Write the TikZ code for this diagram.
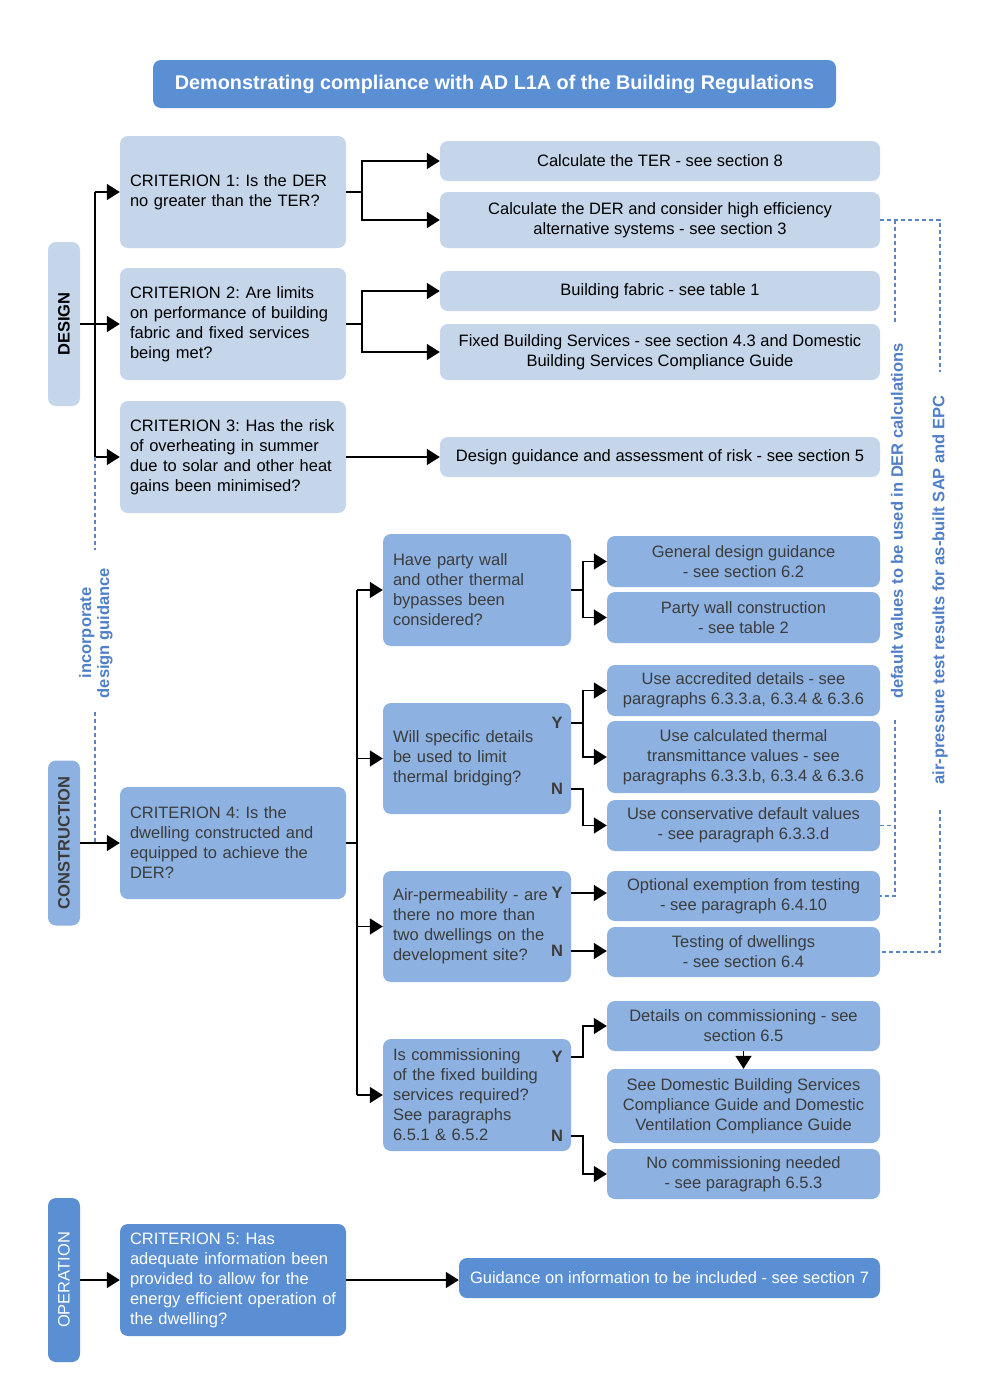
\documentclass[tikz,border=0pt]{standalone}
\usepackage{fontspec}
\setmainfont{Liberation Sans}
\usetikzlibrary{arrows.meta}
\definecolor{lightbox}{HTML}{C5D6EA}
\definecolor{medbox}{HTML}{8DB2E1}
\definecolor{darkbox}{HTML}{5B8FD3}
\definecolor{dashblue}{HTML}{5A85C5}
\definecolor{labblue}{HTML}{4F7FC8}
\definecolor{greytext}{HTML}{3C3C3C}
\newcommand\ml[1]{\mbox{#1}}
\begin{document}
\begin{tikzpicture}[x=1pt,y=-1pt,
  base/.style={rounded corners=8pt, draw=none, inner ysep=0pt, font=\fontsize{16.5}{20}\selectfont\frenchspacing},
  lbox/.style={base, fill=lightbox, text=black},
  mbox/.style={base, fill=medbox, text=greytext},
  dbox/.style={base, fill=darkbox, text=white},
  crit/.style={inner xsep=10pt, text width=206pt, align=left, minimum height=112pt},
  ques/.style={inner xsep=10pt, text width=168pt, align=left},
  rbox/.style={align=center, inner xsep=0pt},
  phase/.style={minimum width=32pt, inner xsep=0pt},
  arr/.style={-{Triangle[length=13pt,width=16pt]}, line width=1.6pt},
  ln/.style={line width=1.6pt},
  dsh/.style={dashblue, line width=1.3pt, dash pattern=on 4pt off 3pt},
  yn/.style={font=\fontsize{16.5}{20}\selectfont\bfseries, text=greytext, inner sep=0pt},
  side/.style={font=\fontsize{16.5}{18}\selectfont\bfseries, text=labblue, rotate=90, align=center, inner sep=0pt}
]
\fill[white] (0,0) rectangle (989,1398);
\useasboundingbox (0,0) rectangle (989,1398);

% title
\node[dbox, minimum width=683pt, minimum height=48pt, font=\fontsize{19.8}{24}\selectfont\bfseries] (title) at (494.5,84) {Demonstrating compliance with AD L1A of the Building Regulations};

% ---------------- DESIGN ----------------
\node[lbox, phase, minimum height=164pt, font=\fontsize{16.5}{20}\selectfont\bfseries] (design) at (64,324) {\rotatebox{90}{DESIGN}};
\node[lbox, crit] (c1) at (233,192) {\ml{CRITERION 1: Is the DER}\\\ml{no greater than the TER?}};
\node[lbox, crit] (c2) at (233,324) {\ml{CRITERION 2: Are limits}\\\ml{on performance of building}\\\ml{fabric and fixed services}\\\ml{being met?}};
\node[lbox, crit] (c3) at (233,457) {\ml{CRITERION 3: Has the risk}\\\ml{of overheating in summer}\\\ml{due to solar and other heat}\\\ml{gains been minimised?}};

\node[lbox, rbox, minimum width=440pt, minimum height=40pt] (ter) at (660,161) {Calculate the TER - see section 8};
\node[lbox, rbox, minimum width=440pt, minimum height=56pt] (der) at (660,220) {Calculate the DER and consider high efficiency\\alternative systems - see section 3};
\node[lbox, rbox, minimum width=440pt, minimum height=40pt] (fab) at (660,291) {Building fabric - see table 1};
\node[lbox, rbox, minimum width=440pt, minimum height=56pt] (fbs) at (660,352) {Fixed Building Services - see section 4.3 and Domestic\\Building Services Compliance Guide};
\node[lbox, rbox, minimum width=440pt, minimum height=40pt] (dgr) at (660,457) {Design guidance and assessment of risk - see section 5};

\coordinate (dvx) at (95,0);
\draw[ln] (c1.west -| dvx) -- (c3.west -| dvx);
\draw[ln] (design.east) -- (c2.west -| dvx);
\draw[arr] (c1.west -| dvx) -- (c1.west);
\draw[arr] (c2.west -| dvx) -- (c2.west);
\draw[arr] (c3.west -| dvx) -- (c3.west);

\draw[arr] (c1.east) -- ++(16,0) |- (ter.west);
\draw[arr] (c1.east) -- ++(16,0) |- (der.west);
\draw[arr] (c2.east) -- ++(16,0) |- (fab.west);
\draw[arr] (c2.east) -- ++(16,0) |- (fbs.west);
\draw[arr] (c3.east) -- (dgr.west);

% ---------------- CONSTRUCTION ----------------
\node[mbox, phase, minimum height=165pt, font=\fontsize{16.5}{20}\selectfont\bfseries] (cons) at (64,843) {\rotatebox{90}{CONSTRUCTION}};
\node[mbox, crit] (c4) at (233,843) {\ml{CRITERION 4: Is the}\\\ml{dwelling constructed and}\\\ml{equipped to achieve the}\\\ml{DER?}};

\node[mbox, ques, minimum height=112pt] (q1) at (477,590) {Have party wall\\and other thermal\\bypasses been\\considered?};
\node[mbox, ques, minimum height=111pt] (q2) at (477,758.5) {Will specific details\\be used to limit\\thermal bridging?};
\node[mbox, ques, minimum height=111pt] (q3) at (477,926.5) {\ml{Air-permeability - are}\\there no more than\\two dwellings on the\\development site?};
\node[mbox, ques, minimum height=112pt] (q4) at (477,1095) {Is commissioning\\of the fixed building\\services required?\\See paragraphs\\6.5.1 \& 6.5.2};

\node[yn] (y2) at (557,723) {Y};
\node[yn] (n2) at (557,789) {N};
\node[yn] (y3) at (557,893) {Y};
\node[yn] (n3) at (557,951) {N};
\node[yn] (y4) at (557,1057) {Y};
\node[yn] (n4) at (557,1136) {N};

\node[mbox, rbox, minimum width=273pt, minimum height=51pt] (r1) at (743.5,561.5) {General design guidance\\- see section 6.2};
\node[mbox, rbox, minimum width=273pt, minimum height=51pt] (r2) at (743.5,617.5) {Party wall construction\\- see table 2};
\node[mbox, rbox, minimum width=273pt, minimum height=51pt] (r3) at (743.5,690.5) {Use accredited details - see\\paragraphs 6.3.3.a, 6.3.4 \& 6.3.6};
\node[mbox, rbox, minimum width=273pt, minimum height=72pt] (r4) at (743.5,757) {Use calculated thermal\\transmittance values - see\\paragraphs 6.3.3.b, 6.3.4 \& 6.3.6};
\node[mbox, rbox, minimum width=273pt, minimum height=51pt] (r5) at (743.5,825.5) {Use conservative default values\\- see paragraph 6.3.3.d};
\node[mbox, rbox, minimum width=273pt, minimum height=50pt] (r6) at (743.5,896) {Optional exemption from testing\\- see paragraph 6.4.10};
\node[mbox, rbox, minimum width=273pt, minimum height=50pt] (r7) at (743.5,952) {Testing of dwellings\\- see section 6.4};
\node[mbox, rbox, minimum width=273pt, minimum height=50pt] (r8) at (743.5,1026) {Details on commissioning - see\\section 6.5};
\node[mbox, rbox, minimum width=273pt, minimum height=74pt] (r9) at (743.5,1106) {See Domestic Building Services\\Compliance Guide and Domestic\\Ventilation Compliance Guide};
\node[mbox, rbox, minimum width=273pt, minimum height=50pt] (r10) at (743.5,1174) {No commissioning needed\\- see paragraph 6.5.3};

\draw[arr] (cons.east) -- (c4.west);
\coordinate (tx) at (357,0);
\draw[ln] (c4.east) -- (c4.east -| tx);
\draw[ln] (q1.west -| tx) -- (q4.west -| tx);
\draw[arr] (q1.west -| tx) -- (q1.west);
\draw[arr] (q2.west -| tx) -- (q2.west);
\draw[arr] (q3.west -| tx) -- (q3.west);
\draw[arr] (q4.west -| tx) -- (q4.west);

\draw[arr] (q1.east) -- ++(12,0) |- (r1.west);
\draw[arr] (q1.east) -- ++(12,0) |- (r2.west);
\draw[arr] (q2.east |- y2) -- ++(12,0) |- (r3.west);
\draw[arr] (q2.east |- y2) -- ++(12,0) |- (r4.west);
\draw[arr] (q2.east |- n2) -- ++(12,0) |- (r5.west);
\draw[arr] (q3.east |- y3) -- (r6.west |- y3);
\draw[arr] (q3.east |- n3) -- (r7.west |- n3);
\draw[arr] (q4.east |- y4) -- ++(12,0) |- (r8.west);
\draw[arr] (q4.east |- n4) -- ++(12,0) |- (r10.west);
\draw[arr] (r8.south) -- (r9.north);

% incorporate design guidance
\coordinate (ig1) at (95,550);
\coordinate (ig2) at (95,712);
\draw[dsh] (c3.west -| dvx) -- (ig1);
\draw[dsh] (ig2) -- (c4.west -| dvx);
\node[side] (igtext) at (96,633) {incorporate\\design guidance};

% default values dashed
\coordinate (dvtop) at (895,219);
\coordinate (dvmid) at (895,323);
\coordinate (dvlow) at (895,720);
\coordinate (aptop) at (940,219);
\coordinate (apmid) at (940,372);
\coordinate (aplow) at (940,810);
\draw[dsh] (der.east) -- (der.east -| aptop) -- (apmid);
\draw[dsh] (der.east -| dvtop) -- (dvmid);
\draw[dsh] (dvlow) -- (dvlow |- r6.east) -- (r6.east);
\draw[dsh] (r5.east) -- (dvlow |- r5.east);
\draw[dsh] (aplow) -- (aplow |- r7.east) -- (r7.east);
\node[side] (dvtext) at (897,521) {default values to be used in DER calculations};
\node[side] (aptext) at (940,590) {air-pressure test results for as-built SAP and EPC};

% ---------------- OPERATION ----------------
\node[dbox, phase, minimum height=164pt, font=\fontsize{16.5}{20}\selectfont] (op) at (64,1280) {\rotatebox{90}{OPERATION}};
\node[dbox, crit] (c5) at (233,1280) {\ml{CRITERION 5: Has}\\\ml{adequate information been}\\\ml{provided to allow for the}\\\ml{energy efficient operation of}\\\ml{the dwelling?}};
\node[dbox, rbox, minimum width=421pt, minimum height=40pt] (guid) at (669.5,1278) {Guidance on information to be included - see section 7};
\draw[arr] (op.east) -- (c5.west);
\draw[arr] (c5.east) -- (guid.west |- c5.east);
\end{tikzpicture}
\end{document}
